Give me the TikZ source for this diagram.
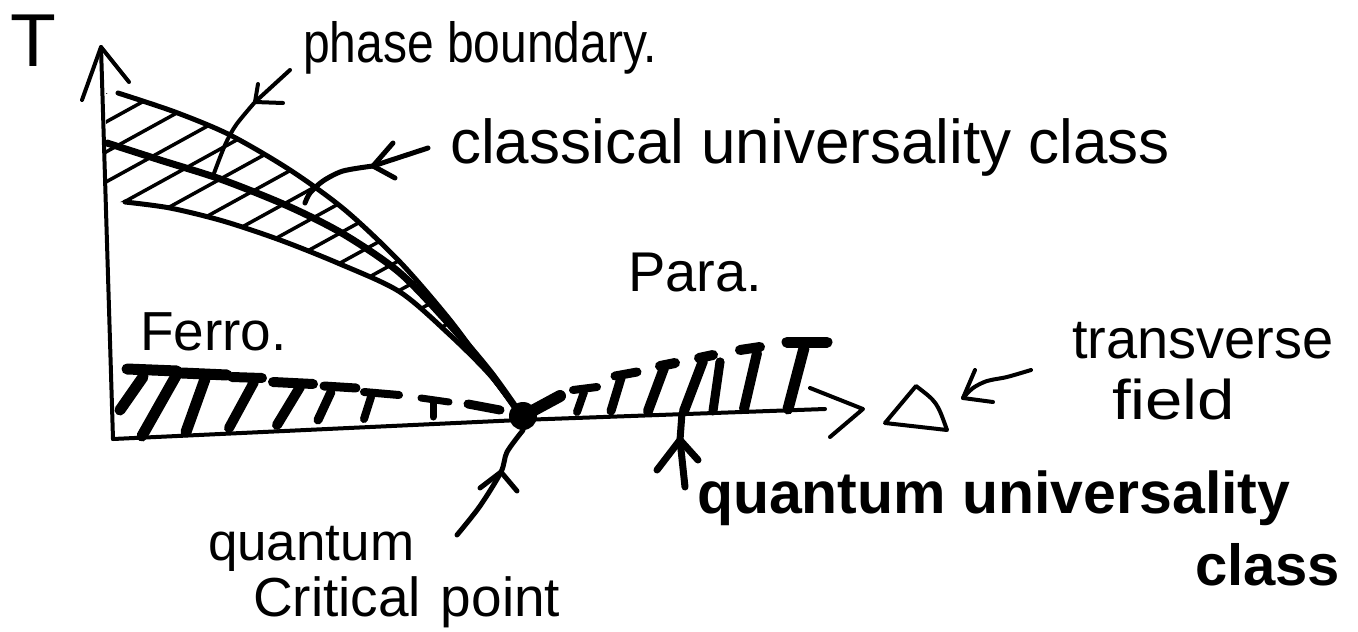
\documentclass[tikz,border=0pt]{standalone}
\usepackage{fontspec}
\usepackage{graphicx}
\setmainfont{Liberation Sans}
\newcommand{\fsz}[1]{\fontsize{#1pt}{#1pt}\selectfont}
\begin{document}
\begin{tikzpicture}[x=1pt,y=-1pt, line cap=round, line join=round,
  ink/.style={line width=4pt},
  boundary/.style={line width=5pt},
  midline/.style={line width=7pt},
  hatchline/.style={line width=3.5pt},
  axisline/.style={line width=4pt},
  tick/.style={line width=#1},
  lbl/.style={anchor=base west, inner sep=0pt, outer sep=0pt},
]
\useasboundingbox[fill=white] (0,0) rectangle (1358,632);

% ---------- axes ----------
\coordinate (O) at (113,439);
\coordinate (Ttip) at (101,47);
\coordinate (Tbl) at (82,100);
\coordinate (Tbr) at (129,82);
\coordinate (Hend) at (825,409);
\coordinate (Htip) at (863,409);
\coordinate (Hbu) at (810,388);
\coordinate (Hbd) at (830,437);
\draw[axisline] (O) -- (Ttip);
\draw[axisline] (Tbl) -- (Ttip) -- (Tbr);
\draw[axisline] (O) -- (520,420) -- (Hend);
\draw[axisline] (Hbu) -- (Htip) -- (Hbd);

% quantum critical point
\node[circle, fill=black, minimum size=28pt, inner sep=0pt] (qcp) at (523,416) {};

% ---------- hatched band ----------
\begin{scope}
\clip plot[smooth] coordinates {(118,93) (175,112) (230,135) (290,170) (345,210) (400,262) (450,320) (490,374) (520,414)}
  -- plot[smooth] coordinates {(520,414) (490,375) (450,335) (400,292) (340,264) (280,240) (223,221) (170,208) (125,202)}
  -- (106,202) -- (106,93) -- cycle;
\foreach \c in {150,180,...,720}
  \draw[hatchline] (95,{\c-52}) -- (540,{\c-297});
\end{scope}

% boundaries
\draw[boundary] plot[smooth] coordinates {(118,93) (175,112) (230,135) (290,170) (345,210) (400,262) (450,320) (490,374) (520,414)};
\draw[midline] plot[smooth] coordinates {(107,143) (160,160) (223,180) (290,207) (345,235) (400,273) (450,325) (490,372) (520,414)};
\draw[boundary] plot[smooth] coordinates {(125,202) (170,208) (223,221) (280,240) (340,264) (400,292) (450,335) (490,375) (520,414)};

% ---------- thick marks along the axis ----------
\draw[tick=11pt] (143,377) -- (120,410);
\foreach \a/\b/\c/\d/\e/\f/\g/\h/\w in {
  127/369/177/371/177/374/142/436/11pt,
  182/373/227/375/205/379/186/432/11pt,
  232/377/262/378/254/382/229/428/10pt,
  273/382/313/384/300/387/277/425/10pt,
  324/386/356/388/331/392/318/420/9pt,
  364/392/399/395/371/397/364/419/8pt,
  421/398/449/402/433/403/433/417/7pt,
  573/390/597/387/584/392/577/412/8pt,
  615/376/637/372/621/378/611/411/9pt,
  660/366/675/363/664/368/648/411/10pt,
  699/358/713/355/703/361/684/411/10pt,
  720/362/720/362/720/362/713/411/9pt,
  740/350/760/347/757/353/744/409/10pt,
  787/342/827/342/804/348/788/409/11pt}
{
  \draw[tick=\w] (\a,\b) -- (\c,\d);
  \draw[tick=\w] (\e,\f) -- (\g,\h);
}
\draw[tick=9pt] (468,404) -- (500,410);
\draw[tick=12pt] (qcp.center) -- (560,396);

% ---------- transverse field symbol ----------
\coordinate (dA) at (885,423);
\coordinate (dB) at (916,386);
\coordinate (dC) at (947,430);
\draw[ink] (dA) -- (dB) .. controls (937,402) .. (dC) -- cycle;

% ---------- labels ----------
\node[lbl, font=\fsz{75}] (Tlab) at (10,66) {T};
\node[lbl, font=\fsz{48}] (pb) at (303,62) {\scalebox{1}[1.18]{phase boundary.}};
\node[lbl, font=\fsz{62}] (cuc) at (450,163) {classical universality class};
\node[lbl, font=\fsz{56}] (para) at (628,291) {Para.};
\node[lbl, font=\fsz{55}] (ferro) at (140,350) {Ferro.};
\node[lbl, font=\fsz{56}] (trans) at (1072,358) {transverse};
\node[lbl, font=\fsz{56}] (field) at (1112,419) {\scalebox{1.2}[1]{field}};
\node[lbl, font=\fsz{59}\bfseries] (quc) at (697,513) {quantum universality};
\node[lbl, font=\fsz{58}\bfseries] (qucc) at (1195,585) {class};
\node[lbl, font=\fsz{53}] (qcpq) at (208,560) {quantum};
\node[lbl, font=\fsz{55}] (qcpc) at (253,616) {Critical\hspace{20pt}point};

% ---------- annotation arrows ----------
% phase boundary
\coordinate (pbT) at (290,70);
\coordinate (pbH) at (255,102);
\coordinate (pbE) at (213,176);
\draw[ink] (pbT) -- (pbH);
\draw[ink] plot[smooth] coordinates {(255,102) (236,125) (225,145) (213,176)};
\draw[ink] (258,84) -- (pbH) -- (283,103);

% classical universality class
\coordinate (clT) at (428,148);
\coordinate (clH) at (373,166);
\draw[boundary] (clT) -- (clH);
\draw[boundary] plot[smooth] coordinates {(373,166) (343,171) (323,181) (310,193) (305,203)};
\draw[boundary] (393,143) -- (clH) -- (395,178);

% transverse field
\coordinate (trT) at (1031,370);
\coordinate (trH) at (963,398);
\draw[ink] plot[smooth] coordinates {(1031,370) (1007,377) (987,381) (973,388) (963,398)};
\draw[ink] (975,370) -- (trH) -- (993,402);

% quantum critical point
\coordinate (qpT) at (457,535);
\coordinate (qpH) at (501,472);
\draw[line width=5pt] plot[smooth] coordinates {(457,535) (480,506) (501,472) (507,452) (qcp.south)};
\draw[line width=5pt] (480,488) -- (qpH) -- (517,491);

% quantum universality class
\coordinate (quT) at (685,487);
\coordinate (quH) at (680,440);
\coordinate (quE) at (682,413);
\draw[line width=7pt] (quT) -- (quH) -- (quE);
\draw[line width=7pt] (657,470) -- (quH) -- (698,460);
\end{tikzpicture}
\end{document}
